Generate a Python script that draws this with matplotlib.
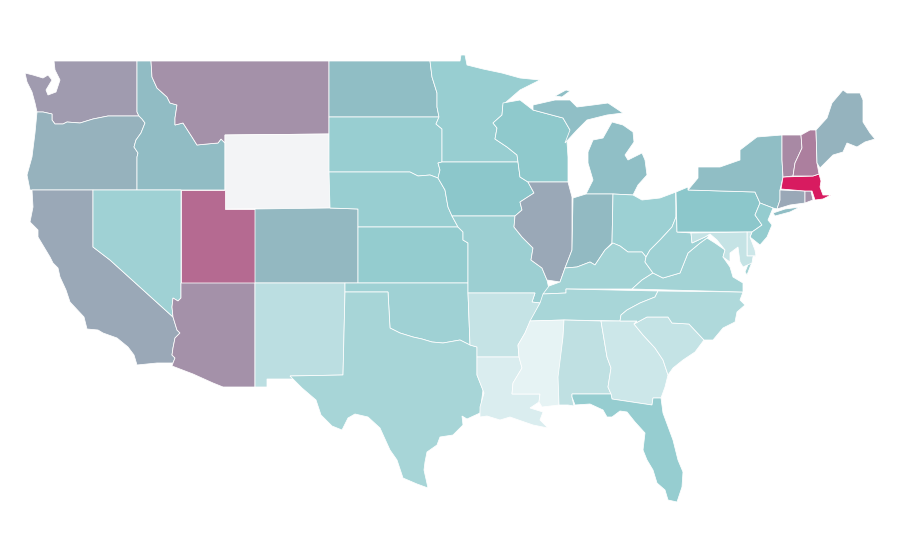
import matplotlib
matplotlib.use("Agg")
import matplotlib.pyplot as plt
from matplotlib.colors import LinearSegmentedColormap, Normalize
from matplotlib.patches import Polygon

states = ["WA", "OR", "CA", "ID", "MT", "WY", "NV", "UT", "AZ", "CO", "NM", "ND", "SD", "NE", "KS", "OK",
          "TX", "MN", "IA", "MO", "AR", "LA", "WI", "IL", "MI", "IN", "OH", "KY", "TN", "MS", "AL", "GA",
          "FL", "SC", "NC", "VA", "WV", "PA", "NY", "NJ", "DE", "MD", "CT", "RI", "MA", "VT", "NH", "ME"]
values = [63, 56.5, 59, 53.5, 66, 0, 41, 77, 66, 54.5, 27, 53, 44, 44, 46, 41,
          37, 44, 50, 42.5, 22, 12, 48.5, 59, 52.5, 54, 42, 39, 36, 6, 25, 18.5,
          45, 23, 33, 39, 41, 50, 53, 46, 18, 22, 59, 66, 100, 68, 71, 56]

# colour scale
scale_stops = [0, 0.02, 0.5, 1]
scale_colors = ["#f3f4f6", "#eef7f8", "#8cc8cb", "#d81b60"]

# state outlines
outlines = {
    "WA": [[(54, 61), (137, 61), (137, 112), (139, 116), (108, 116), (93, 119), (80, 123), (67, 122), (63, 124),
            (55, 124), (52, 120), (52, 114), (43, 112), (37, 112), (35, 103), (32, 92), (27, 82), (25, 73),
            (33, 75), (43, 78), (48, 75), (52, 80), (46, 90), (48, 95), (56, 92), (60, 80), (55, 70)]],
    "OR": [[(37, 112), (43, 112), (52, 114), (52, 120), (55, 124), (63, 124), (67, 122), (80, 123), (93, 119),
            (108, 116), (139, 116), (142, 119), (145, 123), (141, 133), (136, 140), (134, 147), (138, 153),
            (137, 157), (137, 190), (30, 190), (27, 175), (32, 157), (35, 133)]],
    "CA": [[(32, 190), (93, 190), (93, 247), (110, 260), (173, 317), (177, 330), (180, 333), (175, 338), (173, 348),
            (172, 355), (175, 358), (173, 363), (157, 363), (137, 365), (134, 355), (128, 347), (117, 338),
            (103, 333), (98, 330), (87, 329), (84, 317), (70, 302), (66, 290), (60, 277), (58, 268), (53, 263),
            (50, 257), (38, 237), (38, 230), (30, 222), (33, 207)]],
    "ID": [[(137, 61), (151, 61), (152, 77), (157, 88), (167, 97), (170, 103), (177, 105), (175, 118), (175, 125),
            (183, 123), (192, 137), (197, 145), (207, 144), (218, 143), (221, 139), (225, 143), (225, 190),
            (137, 190), (137, 157), (138, 153), (134, 147), (136, 140), (141, 133), (145, 123), (142, 119),
            (139, 116), (137, 112)]],
    "MT": [[(151, 61), (329, 61), (329, 134), (225, 135), (225, 143), (221, 139), (218, 143), (207, 144), (197, 145),
            (192, 137), (183, 123), (175, 125), (175, 118), (177, 105), (170, 103), (167, 97), (157, 88), (152, 77)]],
    "WY": [[(225, 135), (329, 134), (330, 208), (225, 209)]],
    "NV": [[(93, 190), (181, 190), (181, 298), (178, 301), (173, 298), (172, 307), (173, 317), (110, 260), (93, 247)]],
    "UT": [[(181, 190), (225, 190), (225, 209), (255, 209), (255, 283), (181, 283)]],
    "AZ": [[(181, 283), (255, 283), (255, 387), (223, 387), (213, 383), (193, 374), (172, 366), (173, 363), (175, 358),
            (172, 355), (173, 348), (175, 338), (180, 333), (177, 330), (173, 317), (172, 307), (173, 298), (178, 301),
            (181, 298)]],
    "CO": [[(255, 209), (330, 208), (358, 209), (358, 283), (255, 283)]],
    "NM": [[(255, 283), (345, 283), (345, 292), (343, 375), (290, 376), (294, 379), (267, 379), (267, 387), (255, 387)]],
    "ND": [[(329, 61), (430, 61), (432, 77), (437, 93), (437, 107), (439, 117), (329, 117)]],
    "SD": [[(329, 117), (439, 117), (436, 124), (442, 129), (442, 162), (438, 163), (440, 170), (438, 178), (430, 175),
            (418, 176), (410, 172), (329, 172)]],
    "NE": [[(329, 172), (410, 172), (418, 176), (430, 175), (438, 178), (445, 190), (448, 207), (452, 216), (458, 227),
            (358, 227), (358, 209), (330, 208)]],
    "KS": [[(358, 227), (458, 227), (463, 232), (463, 240), (468, 243), (468, 283), (358, 283)]],
    "OK": [[(345, 283), (468, 283), (468, 293), (470, 345), (460, 340), (443, 343), (432, 342), (422, 339), (413, 337),
            (400, 333), (390, 328), (388, 292), (345, 292)]],
    "TX": [[(345, 292), (388, 292), (390, 328), (400, 333), (413, 337), (422, 339), (432, 342), (443, 343), (460, 340),
            (470, 345), (477, 347), (477, 375), (483, 390), (480, 413), (467, 419), (462, 416), (463, 425), (453, 435),
            (440, 437), (437, 445), (427, 452), (425, 462), (424, 470), (428, 488), (417, 484), (403, 478), (397, 460),
            (390, 450), (380, 428), (368, 417), (355, 414), (348, 418), (342, 430), (332, 426), (321, 415), (316, 400),
            (302, 388), (290, 376), (343, 375)]],
    "MN": [[(430, 61), (460, 61), (461, 55), (465, 55), (467, 65), (483, 69), (502, 73), (520, 78), (540, 80), (520, 90),
            (505, 103), (503, 105), (502, 115), (493, 123), (497, 128), (495, 139), (507, 147), (517, 155), (518, 162),
            (442, 162), (442, 129), (436, 124), (439, 117), (437, 107), (437, 93), (432, 77)]],
    "IA": [[(442, 162), (518, 162), (520, 177), (528, 182), (534, 193), (520, 202), (522, 210), (515, 216), (452, 216),
            (448, 207), (445, 190), (438, 178), (440, 170), (438, 163)]],
    "MO": [[(452, 216), (515, 216), (514, 227), (522, 237), (533, 248), (531, 260), (542, 268), (547, 280), (549, 289),
            (540, 303), (532, 302), (535, 293), (468, 293), (468, 243), (463, 240), (463, 232), (458, 227)]],
    "AR": [[(468, 293), (535, 293), (532, 302), (540, 303), (535, 313), (530, 322), (525, 333), (518, 345), (519, 357),
            (477, 357), (477, 347), (470, 345)]],
    "LA": [[(477, 357), (519, 357), (522, 368), (513, 383), (512, 394), (540, 394), (539, 402), (530, 408), (543, 412),
            (540, 420), (548, 428), (533, 425), (510, 417), (500, 420), (487, 416), (480, 417), (480, 407), (484, 393),
            (477, 375)]],
    "MS": [[(530, 321), (564, 320), (563, 337), (559, 380), (559, 405), (542, 407), (539, 402), (540, 394), (512, 394),
            (513, 383), (522, 368), (519, 357), (518, 345), (525, 333)]],
    "AL": [[(564, 320), (601, 321), (607, 357), (611, 368), (608, 387), (611, 394), (572, 394), (572, 397), (574, 406),
            (568, 405), (559, 405), (558, 377), (563, 337)]],
    "GA": [[(601, 321), (637, 321), (634, 324), (643, 335), (655, 348), (663, 360), (668, 375), (665, 387), (661, 398),
            (653, 398), (652, 405), (612, 399), (611, 394), (608, 387), (611, 368), (607, 357)]],
    "FL": [[(572, 394), (611, 394), (612, 399), (652, 405), (653, 398), (661, 398), (663, 413), (673, 440), (678, 460),
            (683, 472), (682, 487), (677, 502), (668, 500), (665, 490), (657, 483), (653, 470), (647, 460), (643, 450),
            (645, 433), (635, 422), (627, 412), (620, 411), (612, 417), (607, 417), (603, 410), (590, 404), (575, 405),
            (572, 397)]],
    "SC": [[(634, 324), (647, 317), (668, 317), (672, 323), (689, 324), (704, 340), (695, 352), (683, 360), (673, 368),
            (668, 375), (663, 360), (655, 348), (643, 335)]],
    "NC": [[(658, 291), (743, 292), (740, 300), (745, 305), (737, 312), (735, 322), (723, 328), (713, 340), (704, 340),
            (689, 324), (672, 323), (668, 317), (647, 317), (634, 324), (637, 321), (620, 321), (621, 315), (627, 310),
            (640, 303), (655, 297)]],
    "TN": [[(530, 321), (540, 303), (543, 294), (566, 293), (566, 289), (658, 291), (655, 297), (640, 303), (627, 310),
            (621, 315), (620, 321), (564, 320)]],
    "KY": [[(543, 294), (549, 286), (560, 282), (565, 268), (577, 267), (590, 262), (595, 265), (605, 250), (613, 243),
            (620, 246), (628, 252), (642, 252), (646, 257), (645, 262), (653, 273), (642, 280), (632, 289), (566, 289),
            (566, 293)]],
    "WI": [[(503, 103), (520, 100), (533, 110), (563, 118), (570, 130), (577, 122), (567, 142), (568, 157), (568, 182),
            (528, 182), (520, 177), (518, 162), (517, 155), (507, 147), (495, 139), (497, 128), (493, 123), (502, 115)]],
    "IL": [[(528, 182), (568, 182), (572, 197), (572, 250), (565, 268), (560, 282), (547, 280), (542, 268), (531, 260),
            (533, 248), (522, 237), (514, 227), (515, 216), (522, 210), (520, 202), (534, 193)]],
    "MI": [[(533, 105), (555, 100), (570, 100), (577, 107), (593, 105), (608, 103), (623, 113), (607, 115), (587, 120),
            (577, 130), (565, 143), (570, 130), (563, 118), (533, 110)],
           [(555, 96), (566, 90), (570, 91), (562, 97)],
           [(588, 152), (593, 140), (603, 138), (612, 122), (623, 125), (633, 132), (634, 142), (625, 155), (628, 160),
            (642, 153), (645, 160), (647, 175), (638, 185), (633, 195), (613, 194), (586, 194), (593, 180), (588, 163)]],
    "IN": [[(573, 198), (586, 194), (613, 194), (612, 243), (605, 250), (595, 265), (590, 262), (577, 267), (565, 268),
            (572, 250)]],
    "OH": [[(613, 194), (633, 195), (642, 200), (660, 198), (676, 192), (676, 217), (672, 227), (660, 240), (650, 250),
            (646, 257), (642, 252), (628, 252), (620, 246), (612, 243)]],
    "NY": [[(688, 190), (698, 178), (698, 167), (720, 167), (740, 160), (740, 150), (757, 137), (782, 135), (782, 160),
            (783, 177), (780, 190), (780, 200), (777, 209), (773, 208), (760, 203), (755, 192)],
           [(773, 213), (785, 209), (800, 207), (790, 212), (775, 216)]],
    "PA": [[(688, 187), (688, 190), (755, 192), (760, 203), (755, 215), (762, 225), (752, 232), (677, 232), (676, 192)]],
    "NJ": [[(760, 203), (773, 208), (768, 220), (772, 225), (767, 237), (760, 245), (750, 237), (752, 232), (762, 225),
            (755, 215)]],
    "DE": [[(747, 232), (752, 232), (750, 237), (755, 250), (756, 256), (747, 256)]],
    "MD": [[(691, 233), (747, 232), (747, 256), (756, 256), (753, 257), (752, 263), (743, 267), (740, 262), (738, 247),
            (730, 253), (730, 262), (723, 257), (725, 250), (717, 240), (710, 234), (705, 237), (692, 243)]],
    "WV": [[(676, 192), (677, 232), (691, 233), (692, 243), (705, 237), (710, 234), (707, 238), (700, 243), (688, 253),
            (680, 273), (663, 278), (653, 273), (645, 262), (646, 257), (650, 250), (660, 240), (672, 227), (676, 217)]],
    "VA": [[(632, 289), (642, 280), (653, 273), (663, 278), (680, 273), (688, 253), (700, 243), (707, 238), (715, 243),
            (725, 250), (723, 257), (730, 267), (733, 277), (743, 283), (743, 292)],
           [(749, 262), (752, 262), (747, 275), (745, 272)]],
    "CT": [[(780, 190), (805, 191), (805, 203), (790, 205), (777, 209), (780, 200)]],
    "RI": [[(805, 191), (811, 191), (813, 200), (805, 203)]],
    "MA": [[(781, 189), (783, 177), (813, 176), (819, 174), (821, 181), (820, 187), (823, 195), (831, 195), (823, 199),
            (815, 200), (812, 191), (805, 191)]],
    "VT": [[(782, 135), (801, 135), (802, 148), (795, 163), (793, 176), (783, 177), (782, 160)]],
    "NH": [[(801, 135), (810, 130), (816, 130), (817, 163), (819, 174), (813, 176), (793, 176), (795, 163), (802, 148)]],
    "ME": [[(816, 130), (827, 118), (832, 103), (843, 90), (847, 93), (860, 93), (863, 100), (863, 122), (870, 133),
            (875, 139), (865, 142), (857, 147), (847, 143), (843, 152), (833, 155), (820, 168), (817, 163)]],
}

cmap = LinearSegmentedColormap.from_list("teal_pink", list(zip(scale_stops, scale_colors)))
norm = Normalize(0, 100)

fig = plt.figure(figsize=(9, 5.6), dpi=100)
ax = fig.add_axes([0, 0, 1, 1])

for state, value in zip(states, values):
    for part in outlines[state]:
        ax.add_patch(Polygon(part, closed=True, facecolor=cmap(norm(value)), edgecolor="white",
                             linewidth=0.55, antialiased=True))

ax.set_xlim(0, 900)
ax.set_ylim(560, 0)
ax.axis("off")

fig.savefig("out.png", dpi=100, facecolor="white")
